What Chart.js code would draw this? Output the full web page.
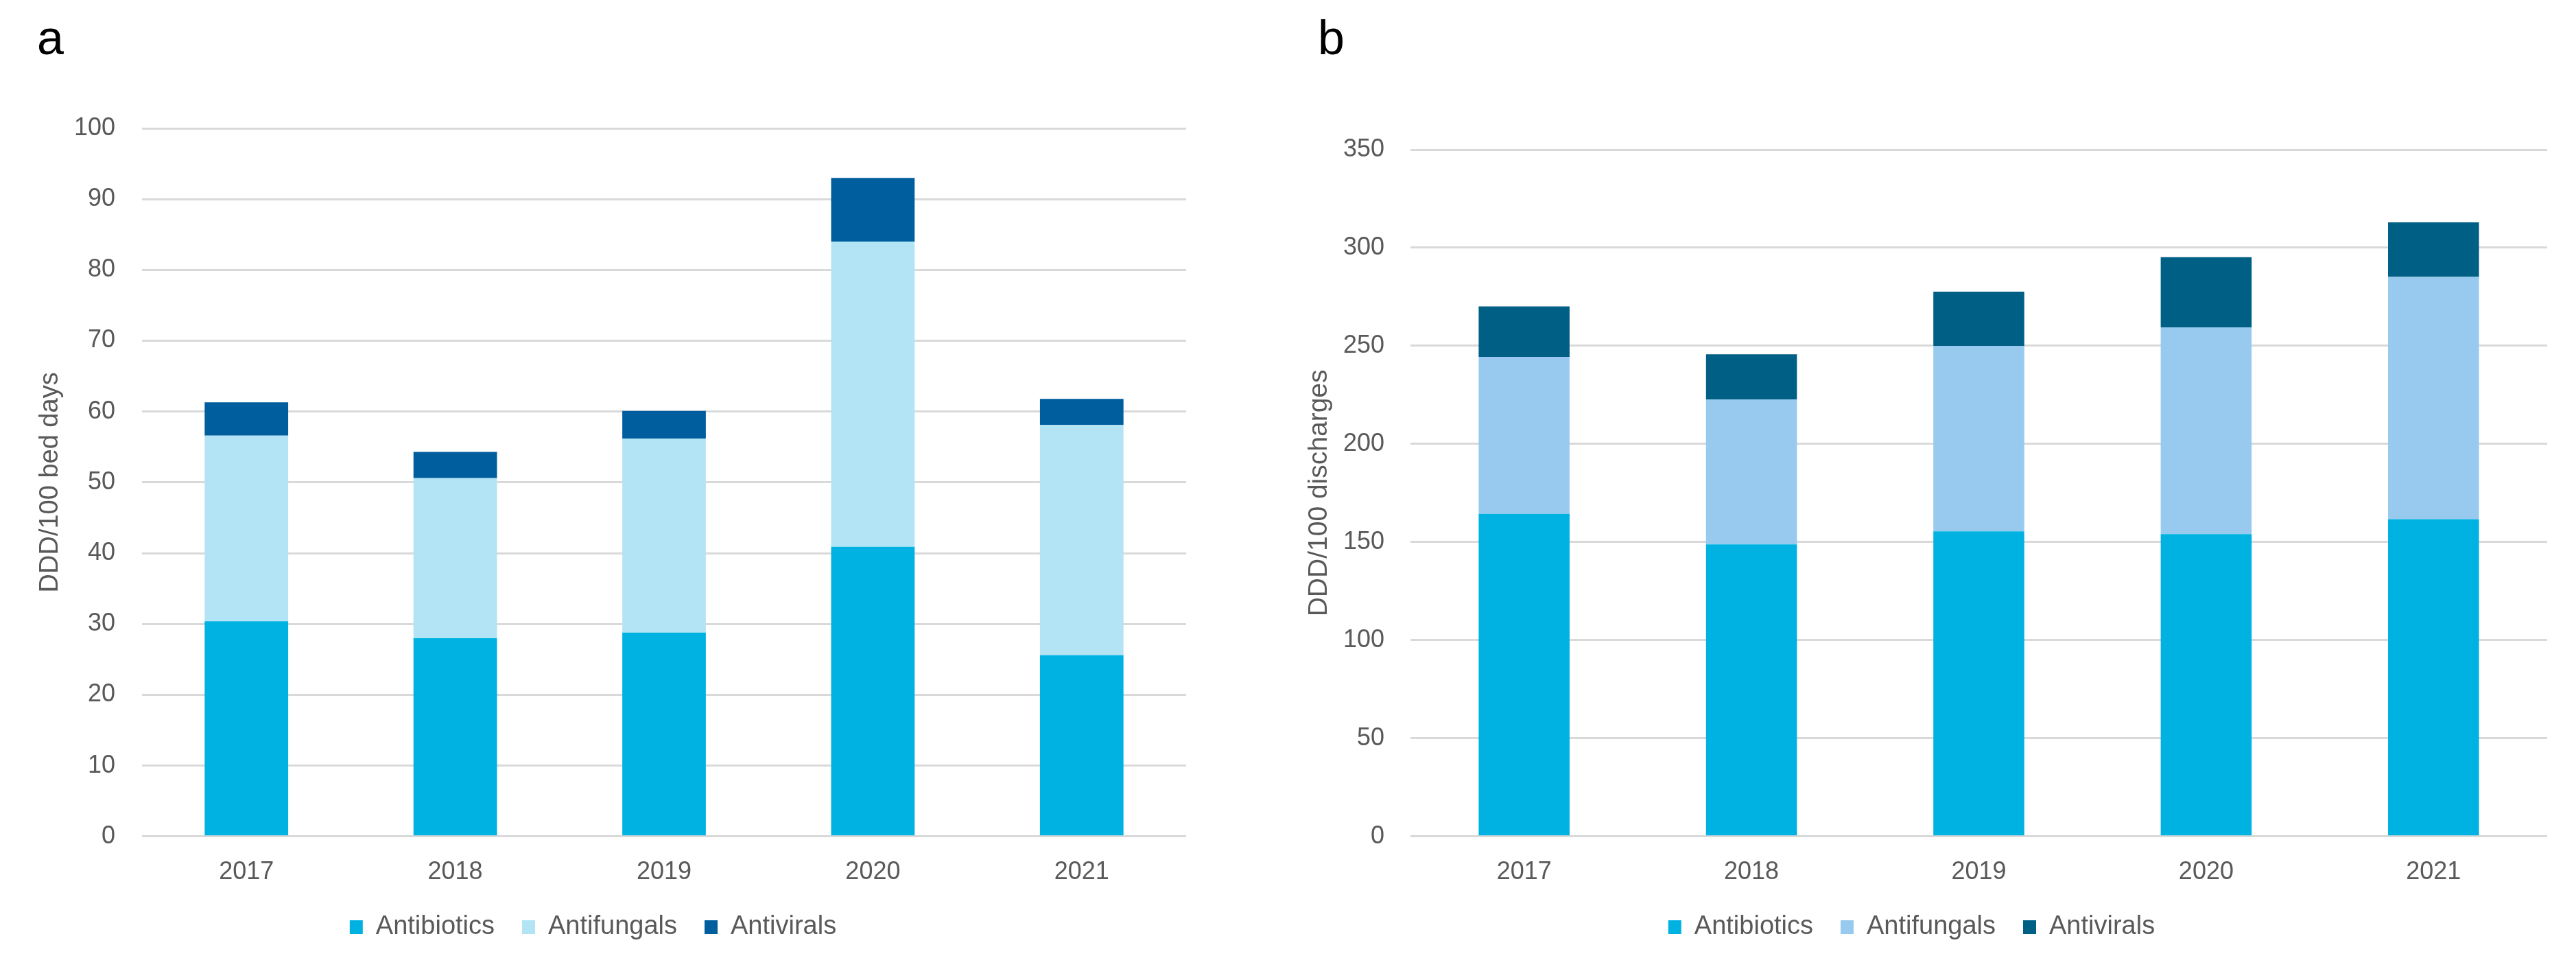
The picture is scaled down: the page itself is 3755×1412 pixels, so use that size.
<!DOCTYPE html>
<html>
<head>
<meta charset="utf-8">
<script src="https://cdn.jsdelivr.net/npm/chart.js@4.4.1/dist/chart.umd.min.js"></script>
<style>
  html, body { margin: 0; padding: 0; background: #ffffff; }
  body { width: 3755px; height: 1412px; position: relative; overflow: hidden; font-family: "Liberation Sans", Arial, sans-serif; }
  .panel { position: absolute; top: 0; }
  .tag { position: absolute; font-family: "Liberation Sans", Arial, sans-serif; font-size: 70px; line-height: 70px; color: #000; }
</style>
</head>
<body>
<div class="tag" style="left:54px; top:20px;">a</div>
<div class="tag" style="left:1921px; top:20px;">b</div>
<div class="panel" style="left:0px; width:1790px; height:1412px;"><canvas id="chartA" width="1790" height="1412"></canvas></div>
<div class="panel" style="left:1860px; width:1895px; height:1412px;"><canvas id="chartB" width="1895" height="1412"></canvas></div>
<script>
// ---- Data ----
const years = ['2017', '2018', '2019', '2020', '2021'];
const seriesNames = ['Antibiotics', 'Antifungals', 'Antivirals'];

// Panel a: DDD/100 bed days
const bedDaysAntibiotics = [30.4, 28.0, 28.8, 40.9, 25.6];
const bedDaysAntifungals = [26.2, 22.6, 27.4, 43.1, 32.5];
const bedDaysAntivirals  = [4.7, 3.7, 3.9, 9.0, 3.7];

// Panel b: DDD/100 discharges
const dischargesAntibiotics = [164.4, 148.8, 155.5, 154.1, 161.7];
const dischargesAntifungals = [80.0, 73.8, 94.5, 105.3, 123.4];
const dischargesAntivirals  = [25.7, 23.1, 27.6, 35.8, 27.8];

// Axis tick settings
const bedDaysTicks = { min: 0, max: 100, step: 10 };
const dischargesTicks = { min: 0, max: 350, step: 50 };

const colorsA = ['#00B2E2', '#B3E4F5', '#005E9E'];
const colorsB = ['#00B2E2', '#97CAEE', '#005F85'];

const FONT = '"Liberation Sans", Arial, sans-serif';
const GREY = '#595959';
const GRID = '#D9D9D9';

// moves the legend a few pixels up after layout (drawing only)
const legendShift = {
  id: 'legendShift',
  afterLayout(chart, args, opts) {
    const lg = chart.legend;
    if (lg && opts.dy) { lg.top += opts.dy; lg.bottom += opts.dy; }
  }
};

function makeChart(id, values, colors, ticks, title, cfg) {
  const datasets = values.map((v, i) => ({
    label: seriesNames[i],
    data: v,
    backgroundColor: colors[i],
    borderWidth: 0,
    barPercentage: 0.4,
    categoryPercentage: 1.0
  }));
  return new Chart(document.getElementById(id), {
    type: 'bar',
    data: { labels: years, datasets },
    plugins: [legendShift],
    options: {
      responsive: false,
      animation: false,
      devicePixelRatio: 1,
      layout: { padding: { top: cfg.top, right: cfg.right, bottom: cfg.bottom, left: 0 } },
      plugins: {
        tooltip: { enabled: false },
        legendShift: { dy: -32 },
        legend: {
          position: 'bottom',
          labels: {
            color: GREY,
            font: { family: FONT, size: 38 },
            boxWidth: 19,
            boxHeight: 20,
            padding: 40
          }
        }
      },
      scales: {
        x: {
          stacked: true,
          grid: { display: false, drawTicks: false },
          border: { display: false },
          ticks: { color: GREY, font: { family: FONT, size: 36 }, padding: 31 }
        },
        y: {
          stacked: true,
          min: ticks.min,
          max: ticks.max,
          grid: { color: GRID, lineWidth: 3, drawTicks: false },
          border: { display: false },
          ticks: { stepSize: ticks.step, color: GREY, font: { family: FONT, size: 36 }, padding: cfg.tickPad },
          title: { display: true, text: title, color: GREY, font: { family: FONT, size: cfg.titleSize }, padding: { top: cfg.titlePad, bottom: 0 } },
          afterFit: (scale) => { scale.width = cfg.axisWidth; }
        }
      }
    }
  });
}

makeChart('chartA', [bedDaysAntibiotics, bedDaysAntifungals, bedDaysAntivirals], colorsA, bedDaysTicks,
  'DDD/100 bed days', { top: 187, right: 61, bottom: 0, tickPad: 39, titlePad: 51, titleSize: 38, axisWidth: 207 });

makeChart('chartB', [dischargesAntibiotics, dischargesAntifungals, dischargesAntivirals], colorsB, dischargesTicks,
  'DDD/100 discharges', { top: 218, right: 42, bottom: 0, tickPad: 38, titlePad: 40, titleSize: 39, axisWidth: 196 });
</script>
</body>
</html>
